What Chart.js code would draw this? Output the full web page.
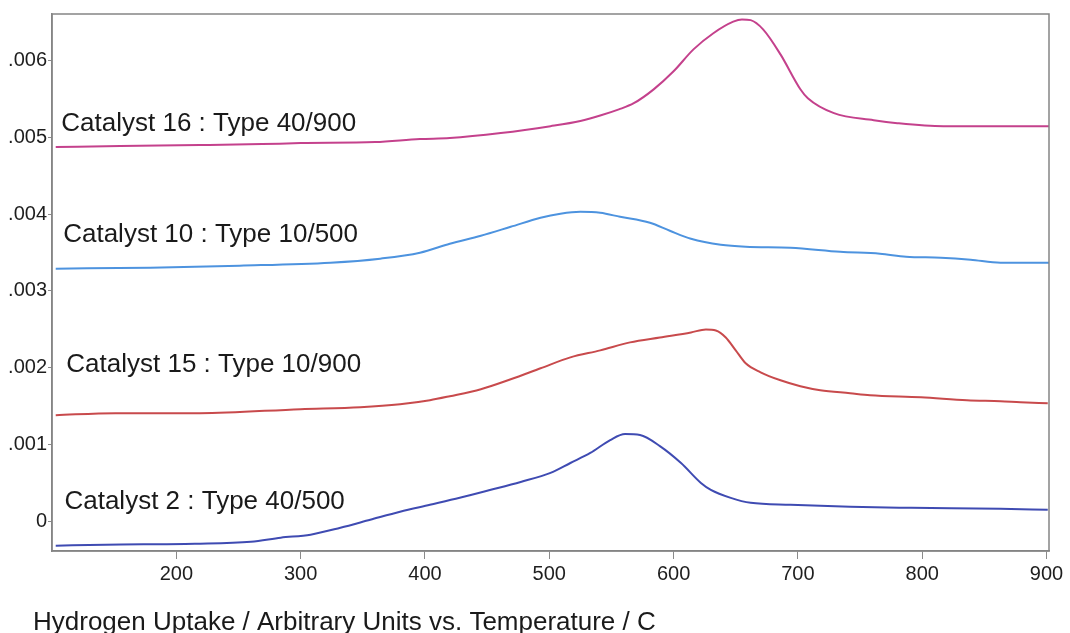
<!DOCTYPE html>
<html>
<head>
<meta charset="utf-8">
<script src="https://cdn.jsdelivr.net/npm/chart.js@4.4.0/dist/chart.umd.min.js"></script>
<style>
  html, body { margin: 0; padding: 0; background: #fff; }
  #wrap { width: 1070px; height: 633px; position: relative; }
</style>
</head>
<body>
<div id="wrap"><canvas id="chart"></canvas></div>
<script>
// temperature / C and hydrogen uptake
const cat16Temp = [103, 155, 219, 269, 300, 360, 396, 420, 461, 501, 525, 541, 556, 568, 584, 600, 616, 632, 648, 655, 662, 672, 686, 702, 708, 729, 761, 780, 817, 902];
const cat16Uptake = [0.00487, 0.004883, 0.004896, 0.004909, 0.004922, 0.004935, 0.004974, 0.004987, 0.005052, 0.005142, 0.00521, 0.00528, 0.00536, 0.00544, 0.00562, 0.005855, 0.00614, 0.00635, 0.0065, 0.00653, 0.00652, 0.0064, 0.006075, 0.005622, 0.005505, 0.005311, 0.00522, 0.005181, 0.005142, 0.005142];

const cat10Temp = [103, 179, 251, 324, 364, 396, 420, 445, 469, 493, 509, 525, 541, 557, 581, 597, 614, 638, 658, 694, 734, 766, 787, 815, 839, 863, 902];
const cat10Uptake = [0.00329, 0.003303, 0.003329, 0.003368, 0.00342, 0.003497, 0.003614, 0.003718, 0.003834, 0.003951, 0.004003, 0.004028, 0.004016, 0.003964, 0.003886, 0.003782, 0.003679, 0.003601, 0.003575, 0.003562, 0.00351, 0.003484, 0.003446, 0.003433, 0.003407, 0.003368, 0.003368];

const cat15Temp = [103, 151, 219, 300, 348, 380, 404, 420, 445, 469, 493, 517, 541, 565, 589, 614, 626, 634, 642, 650, 658, 670, 686, 702, 718, 742, 758, 799, 836, 863, 879, 901];
const cat15Uptake = [0.001386, 0.001412, 0.001412, 0.001464, 0.00149, 0.001528, 0.00158, 0.001632, 0.001723, 0.001852, 0.001995, 0.002137, 0.002228, 0.002332, 0.002396, 0.002461, 0.0025, 0.002487, 0.002396, 0.002228, 0.00206, 0.001943, 0.001839, 0.001762, 0.00171, 0.001671, 0.001645, 0.001619, 0.00158, 0.001567, 0.001554, 0.001541];

const cat2Temp = [103, 143, 215, 260, 284, 308, 332, 356, 380, 404, 428, 453, 477, 501, 517, 533, 549, 561, 573, 589, 606, 622, 630, 646, 662, 694, 742, 791, 863, 901];
const cat2Uptake = [-0.000311, -0.000298, -0.000285, -0.000259, -0.000207, -0.000168, -0.000078, 0.000026, 0.00013, 0.00022, 0.000311, 0.000415, 0.000518, 0.000635, 0.000764, 0.000894, 0.001062, 0.00114, 0.001127, 0.000984, 0.000764, 0.000505, 0.000415, 0.000311, 0.000246, 0.00022, 0.000194, 0.000181, 0.000168, 0.000155];

const seriesNames = ['Catalyst 16 : Type 40/900', 'Catalyst 10 : Type 10/500', 'Catalyst 15 : Type 10/900', 'Catalyst 2 : Type 40/500'];
const xTicks = [200, 300, 400, 500, 600, 700, 800, 900];
const yTicks = [0, 0.001, 0.002, 0.003, 0.004, 0.005, 0.006];
const axisTitle = 'Hydrogen Uptake / Arbitrary Units vs. Temperature / C';

// where the series names sit (temperature, uptake at baseline)
const nameAnchors = [[107.5, 0.005078], [109, 0.00364], [111.5, 0.001943], [110, 0.000168]];

const colors = ['#c4418c', '#4d93df', '#c84a4c', '#3f4bb2'];

const toPoints = (xs, ys) => xs.map((x, i) => ({ x: x, y: ys[i] }));

const frameAndText = {
    id: 'frameAndText',
    afterDraw(chart) {
        const { ctx, chartArea: a, scales: { x, y } } = chart;
        ctx.save();
        ctx.strokeStyle = '#858585';
        ctx.lineWidth = 1.5;
        ctx.strokeRect(a.left, a.top, a.right - a.left, a.bottom - a.top);

        ctx.fillStyle = '#1a1a1a';
        ctx.font = '26px "Liberation Sans", Arial, sans-serif';
        ctx.textBaseline = 'alphabetic';
        ctx.textAlign = 'left';
        seriesNames.forEach((name, i) => {
            const [t, v] = nameAnchors[i];
            ctx.fillText(name, x.getPixelForValue(t), y.getPixelForValue(v));
        });

        ctx.font = '26px "Liberation Sans", Arial, sans-serif';
        ctx.fillText(axisTitle, 33, 630);
        ctx.restore();
    }
};

const datasets = [
    [cat16Temp, cat16Uptake],
    [cat10Temp, cat10Uptake],
    [cat15Temp, cat15Uptake],
    [cat2Temp, cat2Uptake],
].map(([xs, ys], i) => ({
    label: seriesNames[i],
    data: toPoints(xs, ys),
    borderColor: colors[i],
    borderWidth: 2,
    pointRadius: 0,
    cubicInterpolationMode: 'monotone',
    fill: false,
}));

new Chart(document.getElementById('chart'), {
    type: 'line',
    data: { datasets },
    options: {
        responsive: true,
        maintainAspectRatio: false,
        animation: false,
        layout: { padding: { top: 14, right: 21, left: 0, bottom: 0 } },
        plugins: {
            legend: { display: false },
            tooltip: { enabled: false },
        },
        scales: {
            x: {
                type: 'linear',
                min: 100,
                max: 902,
                afterBuildTicks: scale => { scale.ticks = xTicks.map(v => ({ value: v })); },
                afterFit: scale => { scale.height = 82; },
                grid: { drawOnChartArea: false, drawTicks: true, tickLength: 8, color: '#8a8a8a' },
                border: { color: '#858585', width: 1.5 },
                ticks: {
                    color: '#1e1e1e',
                    padding: 3,
                    maxRotation: 0,
                    font: { family: '"Liberation Sans", Arial, sans-serif', size: 20 },
                },
            },
            y: {
                type: 'linear',
                min: -0.00038,
                max: 0.0066,
                afterBuildTicks: scale => { scale.ticks = yTicks.map(v => ({ value: v })); },
                afterFit: scale => { scale.width = 52; },
                grid: { drawOnChartArea: false, drawTicks: true, tickLength: 4, color: '#8a8a8a' },
                border: { color: '#858585', width: 1.5 },
                ticks: {
                    color: '#1e1e1e',
                    padding: 1,
                    font: { family: '"Liberation Sans", Arial, sans-serif', size: 20 },
                    callback: v => v === 0 ? '0' : v.toFixed(3).replace(/^0/, ''),
                },
            },
        },
    },
    plugins: [frameAndText],
});
</script>
</body>
</html>
